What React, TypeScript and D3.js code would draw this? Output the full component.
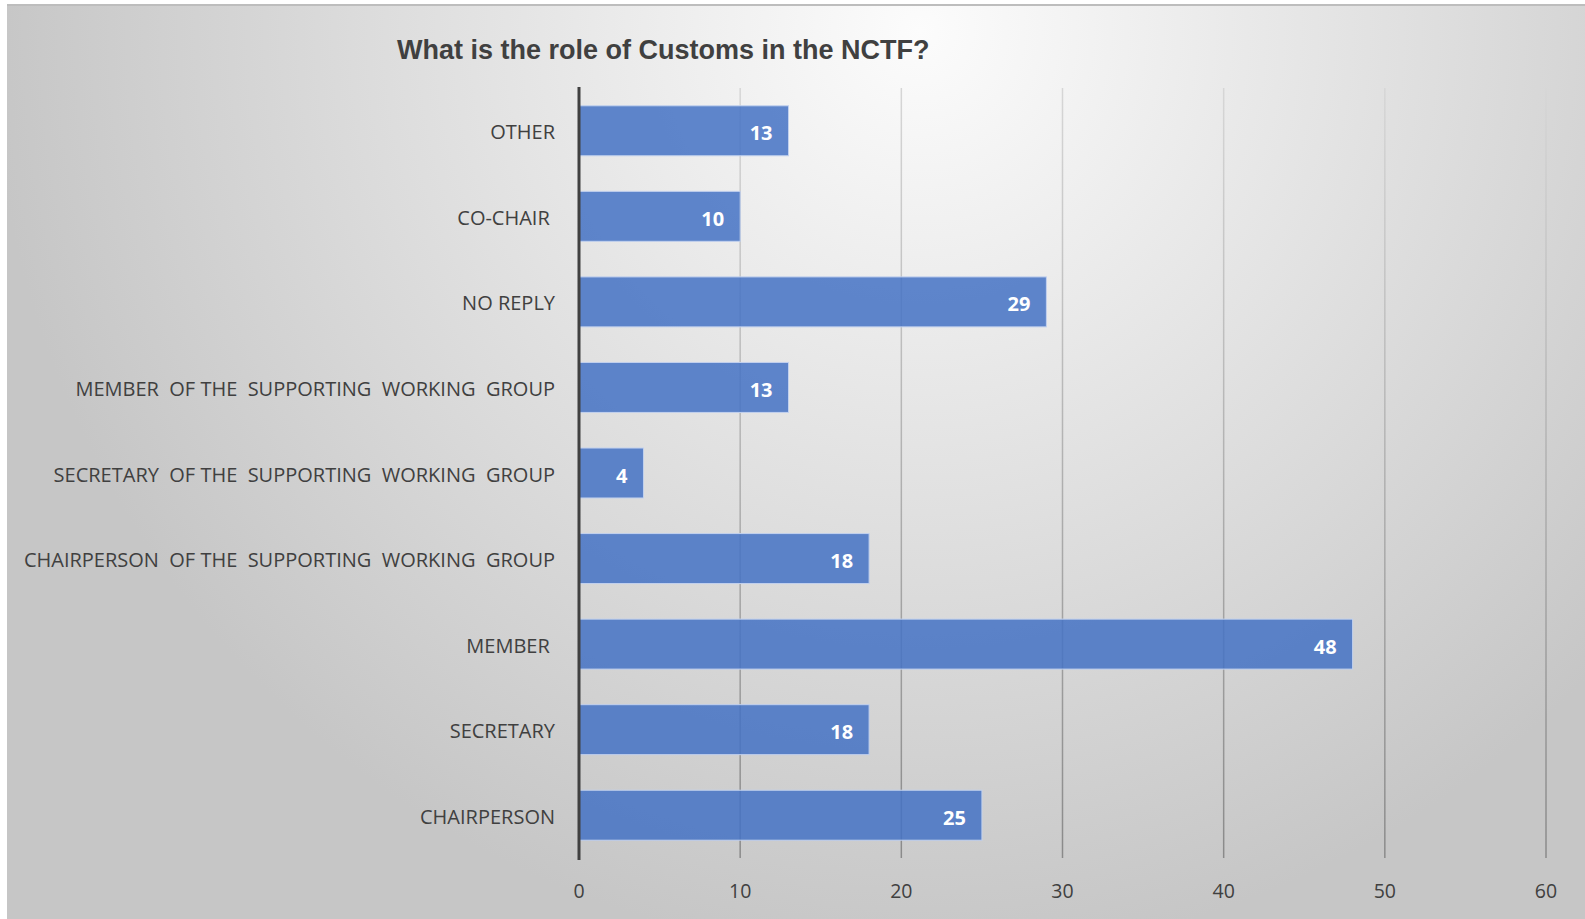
import { useEffect, useRef } from 'react'
import * as d3 from 'd3'

const categories = [
  'OTHER',
  'CO-CHAIR ',
  'NO REPLY',
  'MEMBER  OF THE  SUPPORTING  WORKING  GROUP',
  'SECRETARY  OF THE  SUPPORTING  WORKING  GROUP',
  'CHAIRPERSON  OF THE  SUPPORTING  WORKING  GROUP',
  'MEMBER ',
  'SECRETARY',
  'CHAIRPERSON',
]
const values = [13, 10, 29, 13, 4, 18, 48, 18, 25]
const xTicks = [0, 10, 20, 30, 40, 50, 60]
const title = 'What is the role of Customs in the NCTF?'

const W = 1585
const H = 919

export default function App() {
  const svgRef = useRef<SVGSVGElement>(null)

  useEffect(() => {
    if (!svgRef.current) return
    const svg = d3.select(svgRef.current)
    svg.selectAll('*').remove()

    const defs = svg.append('defs')
    const bg = defs.append('radialGradient')
      .attr('id', 'bg')
      .attr('gradientUnits', 'userSpaceOnUse')
      .attr('cx', 920).attr('cy', 30).attr('r', 930)
    bg.append('stop').attr('offset', '0%').attr('stop-color', '#fcfcfc')
    bg.append('stop').attr('offset', '100%').attr('stop-color', '#c6c6c6')

    const grid = defs.append('linearGradient')
      .attr('id', 'grid')
      .attr('gradientUnits', 'userSpaceOnUse')
      .attr('x1', 0).attr('y1', 88).attr('x2', 0).attr('y2', 858)
    grid.append('stop').attr('offset', '0%').attr('stop-color', '#d6d6d6')
    grid.append('stop').attr('offset', '100%').attr('stop-color', '#8a8a8a')

    // background panel
    svg.append('rect')
      .attr('x', 7).attr('y', 4)
      .attr('width', W - 7).attr('height', H - 4)
      .attr('fill', 'url(#bg)')
    svg.append('line')
      .attr('x1', 7).attr('x2', W).attr('y1', 5).attr('y2', 5)
      .attr('stroke', '#bdbdbd').attr('stroke-width', 2)

    const x = d3.scaleLinear().domain([0, 60]).range([579, 1546])
    const y = d3.scaleBand().domain(categories).range([88, 858]).paddingInner(0.416).paddingOuter(0.208)

    const g = svg.append('g')

    // gridlines
    g.selectAll('line.grid')
      .data(xTicks.filter(d => d > 0))
      .join('line')
      .attr('class', 'grid')
      .attr('x1', d => x(d)).attr('x2', d => x(d))
      .attr('y1', 88).attr('y2', 858)
      .attr('stroke', 'url(#grid)')
      .attr('stroke-width', 1.5)

    // bars
    g.selectAll('rect.bar')
      .data(values)
      .join('rect')
      .attr('class', 'bar')
      .attr('x', x(0))
      .attr('y', (d, i) => y(categories[i])!)
      .attr('width', d => x(d) - x(0))
      .attr('height', y.bandwidth())
      .attr('fill', '#4472c4')
      .attr('fill-opacity', 0.85)
      .attr('stroke', '#c2d1ee')
      .attr('stroke-width', 1)

    // value labels
    g.selectAll('text.val')
      .data(values)
      .join('text')
      .attr('class', 'val')
      .attr('x', d => x(d) - 16)
      .attr('y', (d, i) => y(categories[i])! + y.bandwidth() / 2 + 2)
      .attr('text-anchor', 'end')
      .attr('dominant-baseline', 'central')
      .attr('fill', '#ffffff')
      .attr('font-family', '"Open Sans", sans-serif')
      .attr('font-weight', 'bold')
      .attr('font-size', '20px')
      .text(d => d)

    // category labels
    g.selectAll('text.cat')
      .data(categories)
      .join('text')
      .attr('class', 'cat')
      .attr('x', 555)
      .attr('y', d => y(d)! + y.bandwidth() / 2 + 1)
      .attr('text-anchor', 'end')
      .attr('dominant-baseline', 'central')
      .attr('fill', '#404040')
      .attr('font-family', '"Open Sans", sans-serif')
      .attr('font-size', '20px')
      .style('white-space', 'pre')
      .text(d => d)

    // axis line
    g.append('line')
      .attr('x1', x(0)).attr('x2', x(0))
      .attr('y1', 87).attr('y2', 860)
      .attr('stroke', '#404040')
      .attr('stroke-width', 3)

    // tick labels
    g.selectAll('text.tick')
      .data(xTicks)
      .join('text')
      .attr('class', 'tick')
      .attr('x', d => x(d))
      .attr('y', 898)
      .attr('text-anchor', 'middle')
      .attr('fill', '#404040')
      .attr('font-family', '"Open Sans", sans-serif')
      .attr('font-size', '19.5px')
      .text(d => d)

    svg.append('text')
      .attr('x', 397)
      .attr('y', 59)
      .attr('fill', '#404040')
      .attr('font-family', '"Liberation Sans", Arial, sans-serif')
      .attr('font-weight', 'bold')
      .attr('font-size', '27px')
      .text(title)
  }, [])

  return (
    <svg
      ref={svgRef}
      width={W}
      height={H}
      style={{ position: 'absolute', left: 0, top: 0, display: 'block' }}
    />
  )
}
